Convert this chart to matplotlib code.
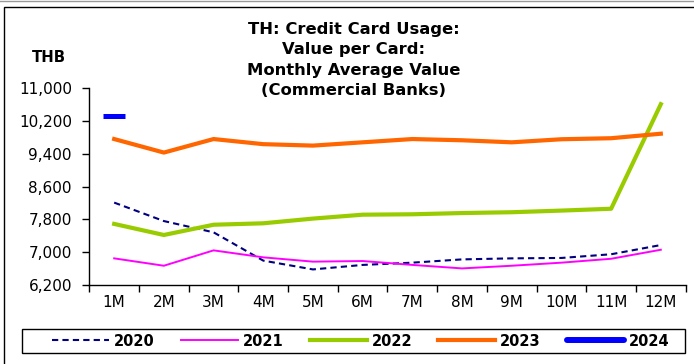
import matplotlib.pyplot as plt
from matplotlib.lines import Line2D
from matplotlib.patches import Rectangle

plt.rcParams['font.family'] = ['DejaVu Sans']

# Monthly average value per card, THB
months = ['1M', '2M', '3M', '4M', '5M', '6M', '7M', '8M', '9M', '10M', '11M', '12M']
v2020 = [8210, 7760, 7485, 6795, 6580, 6690, 6745, 6825, 6850, 6860, 6950, 7175]
v2021 = [6850, 6670, 7045, 6875, 6770, 6785, 6690, 6605, 6670, 6745, 6840, 7060]
v2022 = [7690, 7420, 7670, 7705, 7820, 7915, 7925, 7955, 7975, 8015, 8060, 10610]
v2023 = [9760, 9430, 9760, 9635, 9600, 9680, 9760, 9730, 9680, 9755, 9780, 9890]
v2024 = [10330]

yticks = [6200, 7000, 7800, 8600, 9400, 10200, 11000]

fig = plt.figure(figsize=(6.94, 3.64), dpi=100)
ax = fig.add_axes([0.1287, 0.217, 0.8593, 0.5407])

x = list(range(len(months)))
ax.plot(x, v2020, color='#000080', lw=1.5, ls=(0, (3, 2)), label='2020')
ax.plot(x, v2021, color='#FF00FF', lw=1.4, label='2021')
ax.plot(x, v2022, color='#99CC00', lw=3.0, label='2022')
ax.plot(x, v2023, color='#FF6600', lw=3.0, label='2023')
ax.plot(x[:len(v2024)], v2024, color='#0000FF', lw=4.3, solid_capstyle='round',
        marker='_', ms=16, mew=3.6, label='2024')

ax.set_xlim(-0.5, len(months) - 0.5)
ax.set_ylim(6200, 11000)
ax.set_yticks(yticks)
ax.set_yticklabels([f'{v:,}' for v in yticks])
ax.set_xticks(x)
ax.set_xticklabels(months)
ax.set_xticks([i - 0.5 for i in range(len(months) + 1)], minor=True)
ax.tick_params(axis='x', which='major', length=0, pad=7, labelsize=11)
ax.tick_params(axis='x', which='minor', length=5, width=1, direction='out')
ax.tick_params(axis='y', length=5, width=1, direction='out', pad=7.5, labelsize=11)

for s in ['top', 'right']:
    ax.spines[s].set_visible(False)
for s in ['left', 'bottom']:
    ax.spines[s].set_linewidth(1)

fig.text(354 / 694, 1 - 60 / 364,
         'TH: Credit Card Usage:\nValue per Card:\nMonthly Average Value\n(Commercial Banks)',
         ha='center', va='center', fontsize=11.8, fontweight='bold', linespacing=1.42)
fig.text(49 / 694, 1 - 58 / 364, 'THB', ha='center', va='center',
         fontsize=10.7, fontweight='bold')

# legend entries without frame, box drawn separately
leg = fig.legend(loc='center left', ncol=5, frameon=False,
                 bbox_to_anchor=(52 / 694, 1 - 341 / 364),
                 prop={'weight': 'bold', 'size': 10.5}, handlelength=3.9,
                 handletextpad=0.34, columnspacing=1.8, borderpad=0,
                 borderaxespad=0)
fig.add_artist(Rectangle((22 / 694, 1 - 353 / 364), 663 / 694, 24 / 364,
                         fill=False, edgecolor='black', lw=1,
                         transform=fig.transFigure))

# outer frames
fig.add_artist(Line2D([0, 1], [1 - 1 / 364, 1 - 1 / 364], color='#999999', lw=1))
fig.add_artist(Rectangle((4 / 694, -0.1), 1, 1 - 7 / 364 + 0.1, fill=False,
                         edgecolor='black', lw=1, transform=fig.transFigure))

fig.savefig('out.png', dpi=100)
